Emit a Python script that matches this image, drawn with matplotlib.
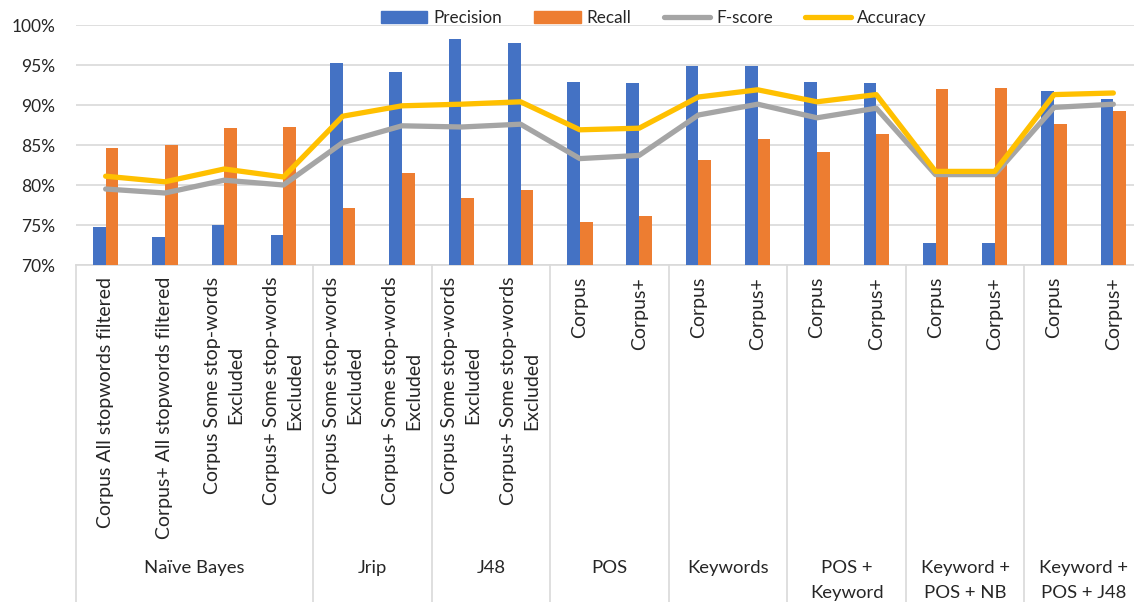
import numpy as np
import matplotlib.pyplot as plt
from matplotlib.patches import Patch
from matplotlib.lines import Line2D
import matplotlib.transforms as mtransforms

plt.rcParams['font.family'] = ['Lato', 'DejaVu Sans']

categories = ["Corpus All stopwords filtered", "Corpus+ All stopwords filtered",
              "Corpus Some stop-words\nExcluded", "Corpus+ Some stop-words\nExcluded",
              "Corpus Some stop-words\nExcluded", "Corpus+ Some stop-words\nExcluded",
              "Corpus Some stop-words\nExcluded", "Corpus+ Some stop-words\nExcluded",
              "Corpus", "Corpus+", "Corpus", "Corpus+", "Corpus", "Corpus+",
              "Corpus", "Corpus+", "Corpus", "Corpus+"]
groups = ["Naïve Bayes", "Jrip", "J48", "POS", "Keywords", "POS +\nKeyword",
          "Keyword +\nPOS + NB", "Keyword +\nPOS + J48"]
group_sizes = [4, 2, 2, 2, 2, 2, 2, 2]

precision = [74.8, 73.5, 75.0, 73.7, 95.3, 94.1, 98.2, 97.7, 92.9, 92.75,
             94.9, 94.9, 92.9, 92.8, 72.8, 72.8, 91.7, 90.8]
recall = [84.6, 85.0, 87.1, 87.2, 77.1, 81.5, 78.4, 79.4, 75.4, 76.1,
          83.1, 85.7, 84.1, 86.4, 92.0, 92.1, 87.6, 89.2]
fscore = [79.5, 79.0, 80.6, 80.0, 85.3, 87.4, 87.25, 87.6, 83.3, 83.7,
          88.75, 90.1, 88.4, 89.6, 81.3, 81.3, 89.7, 90.1]
accuracy = [81.1, 80.4, 82.0, 81.0, 88.6, 89.9, 90.1, 90.4, 86.9, 87.1,
            91.0, 91.9, 90.4, 91.3, 81.7, 81.7, 91.3, 91.5]

c_blue, c_orange, c_gray, c_yellow = '#4472C4', '#ED7D31', '#A5A5A5', '#FFC000'
grid_c = '#D9D9D9'
txt_c = '#262626'

fig = plt.figure(figsize=(11.34, 6.02), dpi=100)
ax = fig.add_axes([76 / 1134, 1 - 265 / 602, (1143 - 76) / 1134, 240 / 602])

x = np.arange(len(categories))
w = 0.214
ax.bar(x - w / 2, [p - 70 for p in precision], w, bottom=70, color=c_blue, zorder=2)
ax.bar(x + w / 2, [r - 70 for r in recall], w, bottom=70, color=c_orange, zorder=2)
ax.plot(x, fscore, color=c_gray, lw=3.8, zorder=3, solid_capstyle='round')
ax.plot(x, accuracy, color=c_yellow, lw=3.8, zorder=4, solid_capstyle='round')

ax.set_xlim(-0.5, len(categories) - 0.5)
ax.set_ylim(70, 100)
ax.set_yticks(range(70, 101, 5))
ax.set_yticklabels([f'{v}%' for v in range(70, 101, 5)], fontsize=12.5, color=txt_c)
ax.yaxis.grid(True, color=grid_c, lw=1.2, zorder=0)
ax.set_axisbelow(True)
for s in ax.spines.values():
    s.set_visible(False)
ax.tick_params(axis='y', length=0, pad=15)

ax.set_xticks(x)
ax.set_xticklabels(categories, rotation=90, va='top', ha='center',
                   multialignment='center', fontsize=14, color=txt_c,
                   linespacing=1.45)
ax.tick_params(axis='x', length=0, pad=8.5)

# axis line and group separators
trans = mtransforms.blended_transform_factory(ax.transData, ax.transAxes)
ax.plot([-0.5, len(categories) - 0.5], [0, 0], transform=trans, color=grid_c,
        lw=1.2, clip_on=False, zorder=1)
edges = np.concatenate([[0], np.cumsum(group_sizes)]) - 0.5
for e in edges:
    ax.plot([e, e], [0, -1.45], transform=trans, color=grid_c, lw=1.2, clip_on=False)
for i, g in enumerate(groups):
    cx = (edges[i] + edges[i + 1]) / 2
    ax.text(cx, -1.23, g, transform=trans, ha='center', va='top',
            fontsize=13.3, color=txt_c, linespacing=1.65)

handles = [Patch(color=c_blue), Patch(color=c_orange),
           Line2D([], [], color=c_gray, lw=3.8, solid_capstyle='round'),
           Line2D([], [], color=c_yellow, lw=3.8, solid_capstyle='round')]
fig.legend(handles, ['Precision', 'Recall', 'F-score', 'Accuracy'], loc='center',
           bbox_to_anchor=(654 / 1134, 1 - 18 / 602), ncol=4, frameon=False,
           fontsize=12.3, handlelength=2.7, handleheight=0.75, handletextpad=0.35,
           columnspacing=1.9, labelcolor=txt_c)

fig.savefig('out.png', dpi=100)
